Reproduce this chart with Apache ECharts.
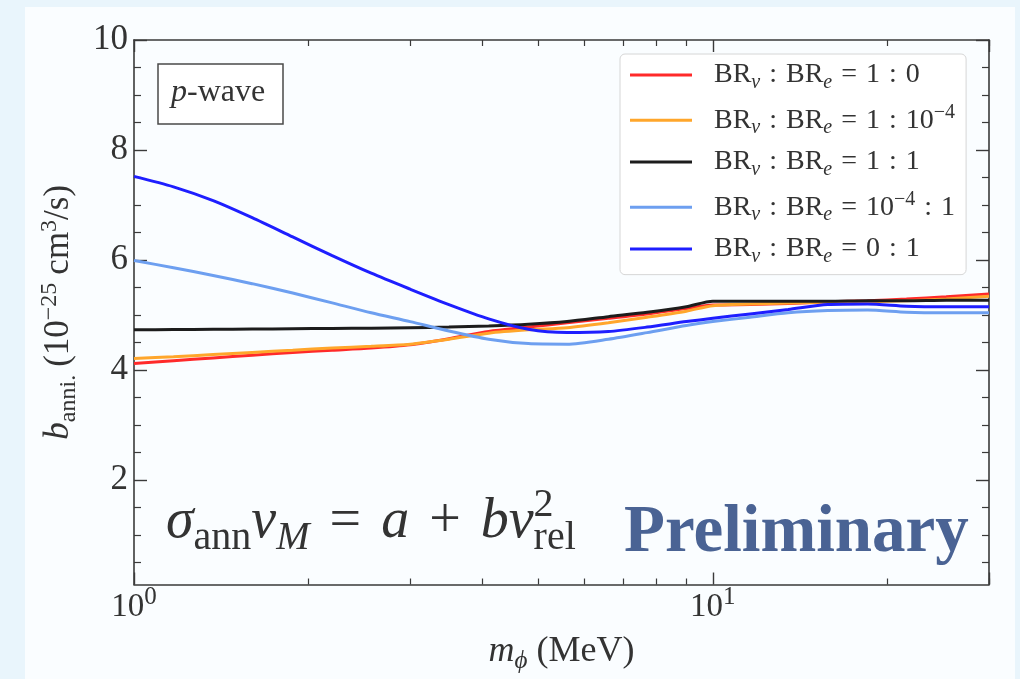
<!DOCTYPE html>
<html>
<head>
<meta charset="utf-8">
<script src="https://cdn.jsdelivr.net/npm/echarts@6/dist/echarts.min.js"></script>
<style>
  html, body { margin: 0; padding: 0; background: #e9f5fc; }
  #chart { width: 1020px; height: 679px; }
</style>
</head>
<body>
<div id="chart"></div>
<script>
// Mediator mass m_phi (MeV)
const massMeV = [1, 1.17, 1.37, 1.6, 1.88, 2.2, 2.57, 3.0, 3.5, 4.1, 4.8, 5.6, 6.6, 7.7, 9.0, 10, 11.6, 13.5, 15.8, 18.5, 21.6, 25.3, 30];

// b_anni. in units of 1e-25 cm^3/s, one array per branching-ratio choice
const bRatio1to0    = [4.12, 4.17, 4.22, 4.27, 4.32, 4.36, 4.40, 4.46, 4.57, 4.70, 4.78, 4.86, 4.94, 5.02, 5.12, 5.18, 5.19, 5.21, 5.24, 5.26, 5.29, 5.33, 5.38];
const bRatio1to1em4 = [4.21, 4.24, 4.28, 4.32, 4.36, 4.40, 4.43, 4.47, 4.56, 4.67, 4.73, 4.77, 4.86, 4.96, 5.07, 5.17, 5.20, 5.22, 5.23, 5.24, 5.26, 5.29, 5.34];
const bRatio1to1    = [4.73, 4.735, 4.74, 4.745, 4.75, 4.755, 4.76, 4.77, 4.78, 4.80, 4.83, 4.88, 4.97, 5.05, 5.15, 5.25, 5.25, 5.25, 5.25, 5.26, 5.26, 5.27, 5.27];
const bRatio1em4to1 = [5.99, 5.86, 5.72, 5.57, 5.40, 5.22, 5.04, 4.88, 4.71, 4.56, 4.48, 4.47, 4.56, 4.68, 4.81, 4.88, 4.96, 5.04, 5.08, 5.09, 5.05, 5.04, 5.04];
const bRatio0to1    = [7.52, 7.33, 7.08, 6.77, 6.42, 6.08, 5.76, 5.47, 5.19, 4.93, 4.74, 4.68, 4.70, 4.78, 4.88, 4.94, 5.02, 5.10, 5.19, 5.20, 5.16, 5.15, 5.15];

const seriesNames = ['1:0', '1:1e-4', '1:1', '1e-4:1', '0:1'];
const seriesValues = [bRatio1to0, bRatio1to1em4, bRatio1to1, bRatio1em4to1, bRatio0to1];
const seriesColors = ['#ff2a2a', '#ffa62b', '#1c1c1c', '#6d9ff0', '#1e1eff'];

// Axis ticks
const yMajorTicks = [2, 4, 6, 8, 10];
const yMinorTicks = [0.5, 1, 1.5, 2.5, 3, 3.5, 4.5, 5, 5.5, 6.5, 7, 7.5, 8.5, 9, 9.5];
const xMinorTicks = [2, 3, 4, 5, 6, 7, 8, 9, 20, 30];

const SERIF = 'Liberation Serif';
const INK = '#333';
const K = 0.34; // baseline offset below the centre of a glyph box, in em

// Rich-text styles: main text is centred on the line, subscripts sit on the
// line bottom, superscripts on the line top; the line height H is chosen so
// that the subscript baseline drops by dSub below the main baseline.
function richSet(F, f, dSub, gap) {
  const H = 2 * (dSub + f / 2 - K * f + K * F);
  const base = { fontFamily: SERIF, color: INK };
  return {
    H: H,
    styles: {
      t:  Object.assign({ fontSize: F, lineHeight: H, verticalAlign: 'middle' }, base),
      i:  Object.assign({ fontSize: F, lineHeight: H, verticalAlign: 'middle', fontStyle: 'italic' }, base),
      s:  Object.assign({ fontSize: f, lineHeight: f, verticalAlign: 'bottom' }, base),
      si: Object.assign({ fontSize: f, lineHeight: f, verticalAlign: 'bottom', fontStyle: 'italic' }, base),
      p:  Object.assign({ fontSize: f, lineHeight: f, verticalAlign: 'top' }, base),
      p0: Object.assign({ fontSize: f, lineHeight: f, verticalAlign: 'top', width: 0 }, base),
      g:  { width: gap, lineHeight: H },
      sp: { width: 17, lineHeight: H }
    }
  };
}

const legendSet = richSet(28, 20, 5, 9);
const br = '{sp| }{t|BR}{si|ν}{g| }{t|:}{g| }{t|BR}{si|e}{g| }{t|=}{g| }';
const legendLabels = [
  br + '{t|1}{g| }{t|:}{g| }{t|0}',
  br + '{t|1}{g| }{t|:}{g| }{t|10}{p|−4}',
  br + '{t|1}{g| }{t|:}{g| }{t|1}',
  br + '{t|10}{p|−4}{g| }{t|:}{g| }{t|1}',
  br + '{t|0}{g| }{t|:}{g| }{t|1}'
];

const xTickSet = richSet(33, 25, 8, 0);
const xNameSet = richSet(36, 25, 6, 9);
const yNameSet = richSet(35, 24, 6, 8);
const formulaSet = richSet(56, 40, 11, 20);
const waveSet = richSet(32, 22, 0, 0);

const AXIS = '#3a3a3a';
const logX = Math.log10(30);

const chart = echarts.init(document.getElementById('chart'), null, { renderer: 'canvas' });

chart.setOption({
  animation: false,
  backgroundColor: '#e9f5fc',
  grid: { left: 134, right: 31, top: 40, bottom: 87, containLabel: false },
  legend: {
    orient: 'vertical',
    left: 620,
    top: 54,
    padding: [7, 11, 8, 10],
    itemGap: 9.9,
    itemWidth: 62,
    itemHeight: 3,
    icon: 'rect',
    backgroundColor: 'rgba(255,255,255,0.9)',
    borderColor: '#d6d6d6',
    borderWidth: 1,
    borderRadius: 5,
    data: seriesNames,
    formatter: name => legendLabels[seriesNames.indexOf(name)],
    textStyle: { fontFamily: SERIF, color: INK, rich: legendSet.styles }
  },
  xAxis: [
    {
      type: 'log', logBase: 10, min: 1, max: 30, interval: 1, position: 'bottom',
      axisLine: { show: true, lineStyle: { color: AXIS, width: 1.6 } },
      axisTick: { show: true, inside: true, length: 12, lineStyle: { color: AXIS, width: 1.4 } },
      axisLabel: {
        margin: 0,
        formatter: v => {
          const e = Math.log10(v);
          if (Math.abs(e - Math.round(e)) > 1e-6) return '';
          return '{t|10}{p|' + Math.round(e) + '}';
        },
        rich: xTickSet.styles
      },
      splitLine: { show: false },
      minorTick: { show: false },
      name: '{i|m}{si|ϕ}{g| }{t|(MeV)}',
      nameLocation: 'middle',
      nameGap: 45,
      nameTextStyle: { rich: xNameSet.styles }
    },
    {
      type: 'value', min: 0, max: logX, position: 'bottom',
      axisLine: { show: false },
      axisTick: { show: true, inside: true, length: 6, customValues: xMinorTicks.map(Math.log10), lineStyle: { color: AXIS, width: 1.2 } },
      axisLabel: { show: false },
      splitLine: { show: false }
    },
    {
      type: 'log', logBase: 10, min: 1, max: 30, interval: 1, position: 'top',
      axisLine: { show: true, lineStyle: { color: AXIS, width: 1.6 } },
      axisTick: { show: true, inside: true, length: 12, lineStyle: { color: AXIS, width: 1.4 } },
      axisLabel: { show: false },
      splitLine: { show: false }
    },
    {
      type: 'value', min: 0, max: logX, position: 'top',
      axisLine: { show: false },
      axisTick: { show: true, inside: true, length: 6, customValues: xMinorTicks.map(Math.log10), lineStyle: { color: AXIS, width: 1.2 } },
      axisLabel: { show: false },
      splitLine: { show: false }
    }
  ],
  yAxis: [
    {
      type: 'value', min: 0.1, max: 10, position: 'left',
      axisLine: { show: true, lineStyle: { color: AXIS, width: 1.6 } },
      axisTick: { show: true, inside: true, length: 13, customValues: yMajorTicks, lineStyle: { color: AXIS, width: 1.4 } },
      axisLabel: { margin: 6, customValues: yMajorTicks, fontFamily: SERIF, fontSize: 35, color: INK },
      splitLine: { show: false },
      name: '{i|b}{s|anni.}{g| }{t|(10}{p|−25}{g| }{t|cm}{p|3}{t|/s)}',
      nameLocation: 'middle',
      nameGap: 53,
      nameTextStyle: { rich: yNameSet.styles }
    },
    {
      type: 'value', min: 0.1, max: 10, position: 'left',
      axisLine: { show: false },
      axisTick: { show: true, inside: true, length: 7, customValues: yMinorTicks, lineStyle: { color: AXIS, width: 1.2 } },
      axisLabel: { show: false },
      splitLine: { show: false }
    },
    {
      type: 'value', min: 0.1, max: 10, position: 'right',
      axisLine: { show: true, lineStyle: { color: AXIS, width: 1.6 } },
      axisTick: { show: true, inside: true, length: 13, customValues: yMajorTicks, lineStyle: { color: AXIS, width: 1.4 } },
      axisLabel: { show: false },
      splitLine: { show: false }
    },
    {
      type: 'value', min: 0.1, max: 10, position: 'right',
      axisLine: { show: false },
      axisTick: { show: true, inside: true, length: 7, customValues: yMinorTicks, lineStyle: { color: AXIS, width: 1.2 } },
      axisLabel: { show: false },
      splitLine: { show: false }
    }
  ],
  graphic: [
    {
      type: 'rect', z: -10, silent: true,
      shape: { x: 25, y: 7, width: 990, height: 680 },
      style: { fill: '#fafdff' }
    },
    {
      type: 'rect', z: 5,
      shape: { x: 158, y: 64, width: 125, height: 60 },
      style: { fill: '#ffffff', stroke: '#4a4a4a', lineWidth: 1.5 }
    },
    {
      type: 'text', z: 6, x: 171, y: 103 - K * 32 - waveSet.H / 2,
      style: { text: '{i|p}{t|-wave}', rich: waveSet.styles, fill: INK }
    },
    {
      type: 'text', z: 6, x: 166, y: 541 - K * 56 - formulaSet.H / 2,
      style: { text: '{i|σ}{s|ann}{i|v}{si|M}{g| }{t|=}{g| }{i|a}{g| }{t|+}{g| }{i|bv}{p0|2}{s|rel}', rich: formulaSet.styles, fill: INK }
    },
    {
      type: 'text', z: 6, x: 624, y: 500,
      style: { text: 'Preliminary', fontFamily: SERIF, fontWeight: 'bold', fontSize: 67, fill: '#4a6394' }
    }
  ],
  series: seriesNames.map((name, idx) => ({
    name: name,
    type: 'line',
    xAxisIndex: 0,
    yAxisIndex: 0,
    data: massMeV.map((m, j) => [m, seriesValues[idx][j]]),
    showSymbol: false,
    smooth: 0.25,
    lineStyle: { color: seriesColors[idx], width: 3 },
    itemStyle: { color: seriesColors[idx] },
    z: 2 + idx
  }))
});
</script>
</body>
</html>
